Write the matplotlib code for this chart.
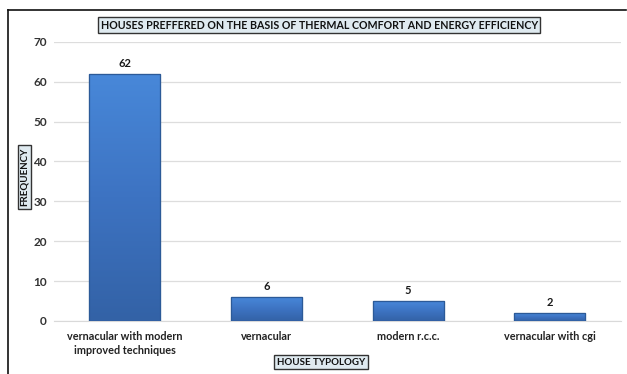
import matplotlib
matplotlib.use("Agg")
import matplotlib.pyplot as plt
import numpy as np
from matplotlib.lines import Line2D
from matplotlib.colors import LinearSegmentedColormap

categories = ["vernacular with modern\nimproved techniques", "vernacular", "modern r.c.c.", "vernacular with cgi"]
values = [62, 6, 5, 2]
yticks = [0, 10, 20, 30, 40, 50, 60, 70]
title = "HOUSES PREFFERED ON THE BASIS OF THERMAL COMFORT AND ENERGY EFFICIENCY"
xlabel = "HOUSE TYPOLOGY"
ylabel = "FREQUENCY"

plt.rcParams['font.family'] = ['Lato', 'DejaVu Sans']

fig = plt.figure(figsize=(6.27, 3.74), dpi=100)
ax = fig.add_axes([0.086, 0.142, 0.904, 0.746])

x = np.arange(len(categories))
bars = ax.bar(x, values, width=0.5, color='#4179cc', edgecolor='#2f5e9e', linewidth=0.8, zorder=3)

# vertical gradient shading on bars (dark bottom, light top)
grad = np.linspace(0, 1, 256).reshape(-1, 1)
cmap = LinearSegmentedColormap.from_list('b', ['#3362a6', '#3d73c2', '#4888d9'])
for b in bars:
    x0, w, h = b.get_x(), b.get_width(), b.get_height()
    im = ax.imshow(grad, extent=[x0, x0 + w, 0, h], origin='lower', aspect='auto', cmap=cmap, zorder=3.5)
    im.set_clip_path(b)
    ax.add_patch(plt.Rectangle((x0, 0), w, h, fill=False, edgecolor='#2c5a98', linewidth=0.9, zorder=4))

for xi, v in zip(x, values):
    ax.text(xi, v + 1.3, str(v), ha='center', va='bottom', fontsize=8, fontweight='bold', color='#1a1a1a')

ax.set_xlim(-0.5, len(categories) - 0.5)
ax.set_ylim(0, 70)
ax.set_yticks(yticks)
ax.set_yticklabels([str(t) for t in yticks], fontsize=8.5, fontweight='bold', color='#333333')
ax.set_xticks(x)
ax.set_xticklabels(categories, fontsize=7.8, fontweight='bold', color='#222222', linespacing=1.4)
ax.tick_params(axis='x', length=0, pad=7)
ax.tick_params(axis='y', length=0, pad=5)
ax.grid(axis='y', color='#dddddd', linewidth=0.9, zorder=0)
for s in ['top', 'right', 'left']:
    ax.spines[s].set_visible(False)
ax.spines['bottom'].set_color('#d9d9d9')

box = dict(boxstyle='square,pad=0.25', facecolor='#dfeaf0', edgecolor='#333333', linewidth=1.0)
fig.text(0.509, 0.933, title, ha='center', va='center', fontsize=7.7, fontweight='bold', color='#111111', bbox=box)
fig.text(0.512, 0.032, xlabel, ha='center', va='center', fontsize=7, fontweight='bold', color='#111111', bbox=box)
fig.text(0.039, 0.527, ylabel, ha='center', va='center', rotation=90, fontsize=7, fontweight='bold', color='#111111', bbox=box)

# border lines
fig.add_artist(Line2D([8/627, 626/627], [1 - 10/374, 1 - 10/374], transform=fig.transFigure, color='#111111', linewidth=1.2))
fig.add_artist(Line2D([8/627, 8/627], [1 - 10/374, 0], transform=fig.transFigure, color='#111111', linewidth=1.2))

fig.savefig('out.png', dpi=100)
